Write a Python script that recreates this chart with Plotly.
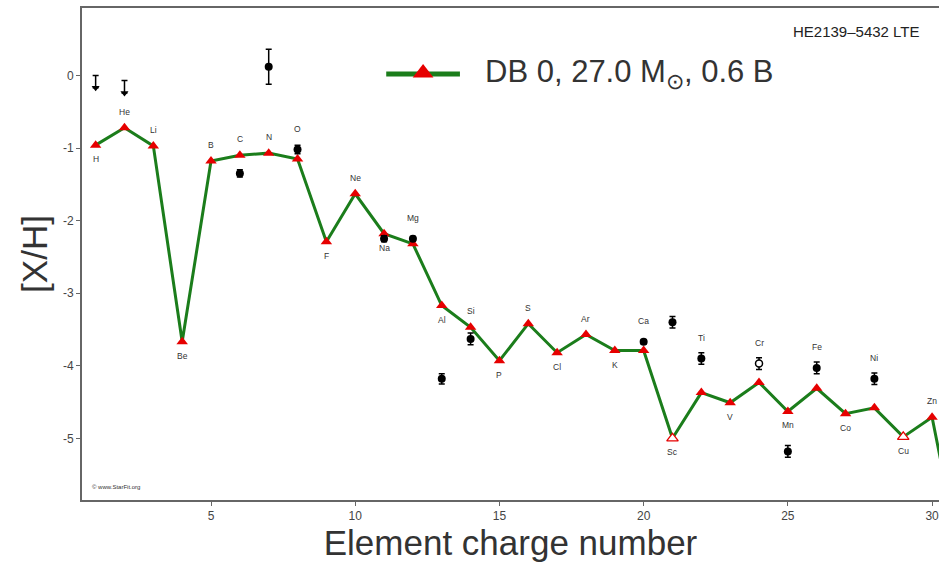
import plotly.graph_objects as go

# ---------------- data ----------------
elements = ["H", "He", "Li", "Be", "B", "C", "N", "O", "F", "Ne", "Na", "Mg", "Al", "Si", "P",
            "S", "Cl", "Ar", "K", "Ca", "Sc", "Ti", "V", "Cr", "Mn", "Fe", "Co", "Ni", "Cu", "Zn", "Ga"]
charge = list(range(1, 32))
model = [-0.96, -0.72, -0.97, -3.67, -1.18, -1.10, -1.07, -1.15, -2.29, -1.63, -2.18, -2.32, -3.17, -3.47, -3.93,
         -3.42, -3.82, -3.57, -3.79, -3.79, -5.00, -4.37, -4.51, -4.23, -4.63, -4.31, -4.66, -4.58, -4.98, -4.71, -6.70]
# model points that are only lower limits (open triangles)
model_open = ["Sc", "Cu"]
# label placement: 't' above, 'b' below
label_side = ["b", "t", "t", "b", "t", "t", "t", "t", "b", "t", "b", "t", "b", "t", "b",
              "t", "b", "t", "b", "t", "b", "t", "b", "t", "b", "t", "b", "t", "b", "t", "t"]

obs_el = ["C", "N", "O", "Na", "Mg", "Al", "Si", "Ca", "Sc", "Ti", "Fe", "Ni", "Mn"]
obs_z = [6, 7, 8, 11, 12, 13, 14, 20, 21, 22, 26, 28, 25]
obs_val = [-1.35, 0.12, -1.02, -2.25, -2.25, -4.18, -3.63, -3.67, -3.40, -3.90, -4.03, -4.18, -5.18]
obs_err = [0.05, 0.24, 0.06, 0.04, 0.03, 0.07, 0.08, 0.03, 0.08, 0.08, 0.08, 0.08, 0.08]

obs_open_el = ["Cr"]
obs_open_z = [24]
obs_open_val = [-3.97]
obs_open_err = [0.08]

lim_el = ["H", "He"]
lim_z = [1, 2]
lim_val = [0.0, -0.07]
lim_len = [0.17, 0.17]

yticks = [0, -1, -2, -3, -4, -5]
ytick_text = ["0", "-1", "-2", "-3", "-4", "-5"]
xticks = [5, 10, 15, 20, 25, 30]

legend_label = "DB 0, 27.0 M<sub>⊙</sub>, 0.6 B"
star_label = "HE2139–5432 LTE"
credit = "© www.StarFit.org"

# ---------------- figure ----------------
GREEN = "#1b7d1b"
RED = "#e60000"
FONT = "Liberation Sans"

fig = go.Figure()

fig.add_trace(go.Scatter(
    x=charge, y=model, mode="lines",
    line=dict(color=GREEN, width=3), showlegend=False, hoverinfo="skip"))

filled_x = [z for z, e in zip(charge, elements) if e not in model_open]
filled_y = [v for v, e in zip(model, elements) if e not in model_open]
open_x = [z for z, e in zip(charge, elements) if e in model_open]
open_y = [v for v, e in zip(model, elements) if e in model_open]

fig.add_trace(go.Scatter(
    x=filled_x, y=filled_y, mode="markers",
    marker=dict(symbol="triangle-up", size=10, color=RED, line=dict(width=0)),
    showlegend=False))
fig.add_trace(go.Scatter(
    x=open_x, y=open_y, mode="markers",
    marker=dict(symbol="triangle-up", size=10, color="white", line=dict(width=1.3, color=RED)),
    showlegend=False))

# observations
fig.add_trace(go.Scatter(
    x=obs_z, y=obs_val, mode="markers",
    marker=dict(symbol="circle", size=8, color="black"),
    error_y=dict(type="data", array=obs_err, color="black", thickness=1.5, width=3),
    showlegend=False))
fig.add_trace(go.Scatter(
    x=obs_open_z, y=obs_open_val, mode="markers",
    marker=dict(symbol="circle", size=7, color="white", line=dict(width=1.5, color="black")),
    error_y=dict(type="data", array=obs_open_err, color="black", thickness=1.5, width=3),
    showlegend=False))
# upper limits
fig.add_trace(go.Scatter(
    x=lim_z, y=[v - l for v, l in zip(lim_val, lim_len)], mode="markers",
    marker=dict(symbol="triangle-down", size=7, color="black"),
    error_y=dict(type="data", array=lim_len, arrayminus=[0] * len(lim_len),
                 color="black", thickness=1.5, width=3),
    showlegend=False))

# element labels
obs_map = dict(zip(obs_el, obs_val))
obs_map.update(dict(zip(obs_open_el, obs_open_val)))
for el, z, v, side in zip(elements, charge, model, label_side):
    if z > 30:
        continue
    if side == "t":
        anchor = v
        shift = 9
        if el in obs_map and 0 < obs_map[el] - v < 0.5:
            anchor = obs_map[el]
            shift = 14
        fig.add_annotation(x=z, y=anchor, text=el, showarrow=False, yshift=shift,
                           yanchor="bottom", font=dict(size=8.5, color="#333", family=FONT))
    else:
        fig.add_annotation(x=z, y=v, text=el, showarrow=False, yshift=-7,
                           yanchor="top", font=dict(size=8.5, color="#333", family=FONT))

# legend sample (drawn on a hidden unit axis)
fig.add_trace(go.Scatter(
    x=[0.355, 0.441], y=[0.866, 0.866], xaxis="x2", yaxis="y2", mode="lines",
    line=dict(color=GREEN, width=5), showlegend=False, hoverinfo="skip"))
fig.add_trace(go.Scatter(
    x=[0.398], y=[0.868], xaxis="x2", yaxis="y2", mode="markers",
    marker=dict(symbol="triangle-up", size=18, color=RED), showlegend=False, hoverinfo="skip"))
fig.add_annotation(xref="paper", yref="paper", x=0.468, y=0.866, text=legend_label,
                   showarrow=False, xanchor="left", yanchor="middle",
                   font=dict(size=31, color="#333", family=FONT))

fig.add_annotation(xref="paper", yref="paper", x=0.979, y=0.953, text=star_label,
                   showarrow=False, xanchor="right", yanchor="middle",
                   font=dict(size=15, color="#222", family=FONT))
fig.add_annotation(xref="paper", yref="paper", x=0.009, y=0.026, text=credit,
                   showarrow=False, xanchor="left", yanchor="middle",
                   font=dict(size=6, color="#333", family=FONT))

fig.update_layout(
    width=939, height=573,
    margin=dict(l=82, r=0, t=8, b=73),
    paper_bgcolor="white", plot_bgcolor="white",
    font=dict(family=FONT, color="#444"),
    xaxis=dict(range=[0.527, 30.24], tickvals=xticks, ticks="outside", ticklen=4,
               tickcolor="#666", showline=True, linecolor="#666", linewidth=2, mirror=True,
               showgrid=False, zeroline=False, tickfont=dict(size=12, color="#444"),
               ticklabeloverflow="allow",
               title=dict(text="Element charge number", font=dict(size=35, color="#333", family=FONT),
                          standoff=6)),
    yaxis=dict(range=[-5.85, 0.93], tickvals=yticks, ticktext=ytick_text, ticks="outside",
               ticklen=4, tickcolor="#666", showline=True, linecolor="#666", linewidth=2,
               showgrid=False, zeroline=False, tickfont=dict(size=12, color="#444"),
               title=dict(text="[X/H]", font=dict(size=35, color="#333", family=FONT), standoff=5)),
    xaxis2=dict(domain=[0, 1], range=[0, 1], overlaying="x", visible=False, anchor="y2"),
    yaxis2=dict(domain=[0, 1], range=[0, 1], overlaying="y", visible=False, anchor="x2"),
    showlegend=False,
)

fig.write_html("out.html", config={"displayModeBar": False},
               post_script="document.body.style.margin='0';document.body.style.overflow='hidden';")
